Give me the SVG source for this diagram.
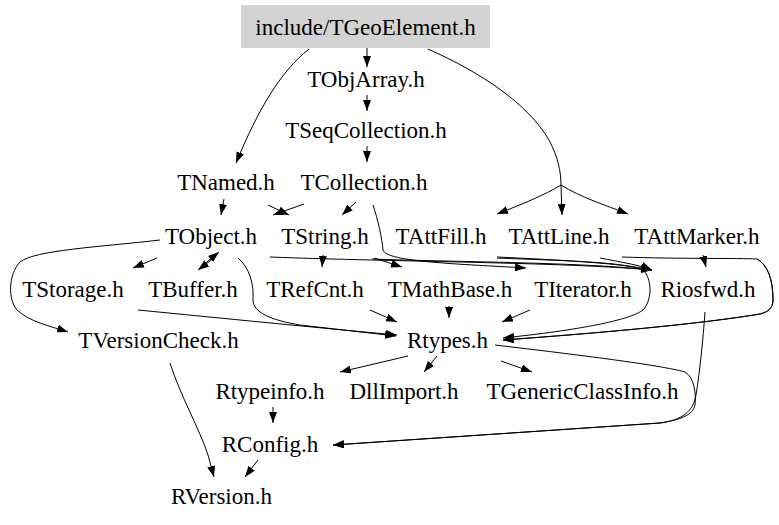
<svg xmlns="http://www.w3.org/2000/svg" width="779" height="525" viewBox="0 0 779 525">
<style>
text{font-family:"Liberation Serif","Times New Roman",serif;font-size:23px;fill:#000;text-anchor:middle}
.e{fill:none;stroke:#000;stroke-width:1;marker-end:url(#ah)}
</style>
<defs>
<marker id="ah" viewBox="0 0 11 8" refX="11" refY="4" markerWidth="11" markerHeight="8" markerUnits="userSpaceOnUse" orient="auto">
<path d="M0,0 L11,4 L0,8 z" fill="#000"/>
</marker>
</defs>
<rect width="779" height="525" fill="#fff"/>
<g id="edges">
<path class="e" d="M367,48 L367,67"/>
<path class="e" d="M309,49 C280,72 258,110 236,163"/>
<path class="e" d="M428,49 C482,73 528,104 549,140 C558,157 561,172 561,185 C545,195 520,205 497,214"/>
<path class="e" d="M561,185 L562,215"/>
<path class="e" d="M561,185 C580,197 605,205 628,214"/>
<path class="e" d="M367,95 L367,111"/>
<path class="e" d="M367,146 L367,162"/>
<path class="e" d="M224,199 L221,215"/>
<path class="e" d="M268,205 L289,215"/>
<path class="e" d="M304,204 L273,215"/>
<path class="e" d="M356,202 L342,215"/>
<path class="e" d="M373,205 C378,220 382,238 383,250 C386,262 460,264 526,268"/>
<path class="e" d="M374,258 L402,267"/>
<path class="e" d="M323,255 L322,267"/>
<path class="e" d="M372,259 C450,262 580,262 652,270"/>
<path class="e" d="M270,257 C400,262 560,262 652,270"/>
<path class="e" d="M497,257 C560,260 620,263 652,270"/>
<path class="e" d="M600,258 C620,262 640,265 652,270"/>
<path class="e" d="M703,255 L706,267"/>
<path class="e" d="M157,258 L133,268"/>
<path class="e" d="M160,240 C100,247 35,250 20,262 C8,275 8,300 17,310 C30,322 50,326 68,332"/>
<path class="e" d="M214,258 L198,270"/>
<path class="e" d="M202,266 L219,252"/>
<path class="e" d="M238,258 C250,268 254,285 253,300 C253,312 270,320 300,325 L396,336"/>
<path class="e" d="M138,310 C220,318 320,328 397,335"/>
<path class="e" d="M370,310 L397,322"/>
<path class="e" d="M449,306 L449,318"/>
<path class="e" d="M530,310 L502,322"/>
<path class="e" d="M497,258 C570,261 635,262 645,272 C652,282 652,300 643,310 C630,320 580,330 503,338"/>
<path class="e" d="M622,257 C680,259 740,258 757,259 C768,265 773,280 773,300 C773,308 768,312 760,314 C700,324 600,333 503,340"/>
<path class="e" d="M757,259 C768,265 773,280 773,300 C773,308 768,312 760,314 C700,324 600,333 503,340"/>
<path class="e" d="M705,312 C703,340 700,370 696,395 C693,412 682,420 660,423 L333,445"/>
<path class="e" d="M495,345 C580,355 660,365 685,372 C695,378 696,395 695,405 C693,415 680,420 660,423 L333,445"/>
<path class="e" d="M408,356 L340,372"/>
<path class="e" d="M437,356 L424,372"/>
<path class="e" d="M501,361 L532,372"/>
<path class="e" d="M273,407 L273,423"/>
<path class="e" d="M258,460 L245,477"/>
<path class="e" d="M170,363 C180,395 200,430 208,455 L214,477"/>
</g>
<g id="n_TGeoElement"><rect x="241" y="5" width="249" height="43" fill="#d3d3d3"/><text x="365.5" y="35">include/TGeoElement.h</text></g>
<g id="n_TObjArray"><text x="366" y="87">TObjArray.h</text></g>
<g id="n_TSeqCollection"><text x="366" y="138">TSeqCollection.h</text></g>
<g id="n_TNamed"><text x="226" y="190">TNamed.h</text></g>
<g id="n_TCollection"><text x="364" y="190">TCollection.h</text></g>
<g id="n_TObject"><text x="211" y="244">TObject.h</text></g>
<g id="n_TString"><text x="325" y="244">TString.h</text></g>
<g id="n_TAttFill"><text x="441" y="244">TAttFill.h</text></g>
<g id="n_TAttLine"><text x="559" y="244">TAttLine.h</text></g>
<g id="n_TAttMarker"><text x="697" y="244">TAttMarker.h</text></g>
<g id="n_TStorage"><text x="73" y="297">TStorage.h</text></g>
<g id="n_TBuffer"><text x="193" y="297">TBuffer.h</text></g>
<g id="n_TRefCnt"><text x="315" y="297">TRefCnt.h</text></g>
<g id="n_TMathBase"><text x="450" y="297">TMathBase.h</text></g>
<g id="n_TIterator"><text x="583" y="297">TIterator.h</text></g>
<g id="n_Riosfwd"><text x="708" y="297">Riosfwd.h</text></g>
<g id="n_TVersionCheck"><text x="158.5" y="348">TVersionCheck.h</text></g>
<g id="n_Rtypes"><text x="447.5" y="348">Rtypes.h</text></g>
<g id="n_Rtypeinfo"><text x="270" y="399">Rtypeinfo.h</text></g>
<g id="n_DllImport"><text x="404" y="399">DllImport.h</text></g>
<g id="n_TGenericClassInfo"><text x="582.5" y="399">TGenericClassInfo.h</text></g>
<g id="n_RConfig"><text x="270" y="452">RConfig.h</text></g>
<g id="n_RVersion"><text x="221.5" y="504">RVersion.h</text></g>
</svg>
